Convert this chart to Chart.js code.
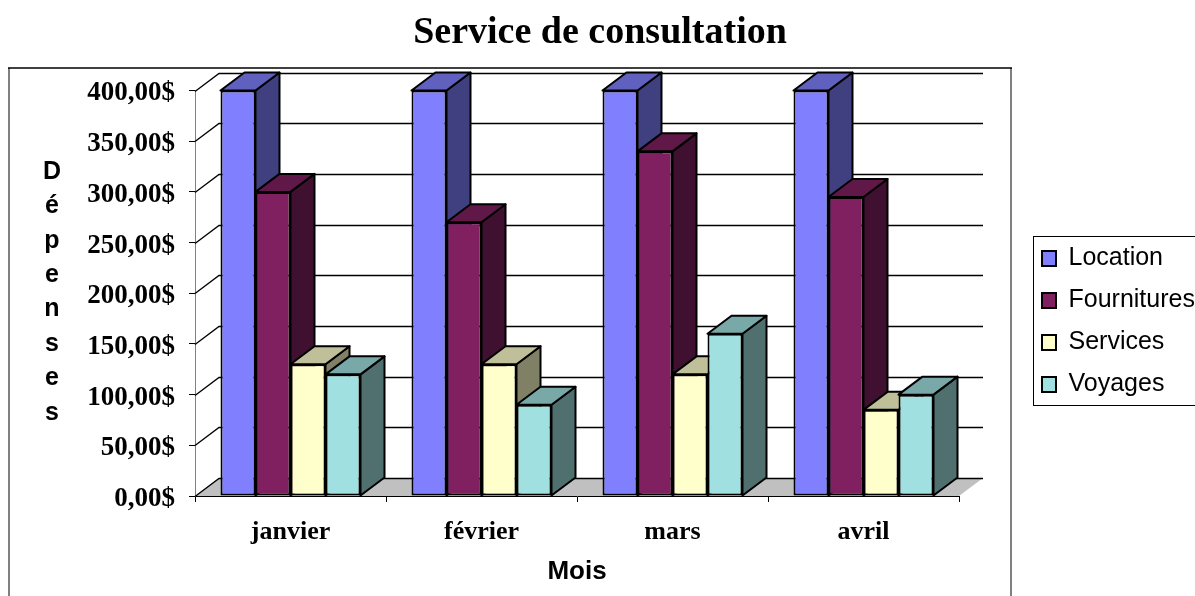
<!DOCTYPE html>
<html lang="fr">
<head>
<meta charset="utf-8">
<title>Service de consultation</title>
<script src="https://cdn.jsdelivr.net/npm/chart.js@4/dist/chart.umd.min.js"></script>
<style>
    html, body { margin: 0; padding: 0; background: #fff; overflow: hidden; }
    canvas { display: block; }
</style>
</head>
<body>
<canvas id="depensesChart" width="1195" height="596"></canvas>
<script>
// ============================================
// DATA
// ============================================
const months = ['janvier', 'février', 'mars', 'avril'];
const location_ = [400, 400, 400, 400];
const fournitures = [300, 270, 340, 295];
const services = [130, 130, 120, 85];
const voyages = [120, 90, 160, 100];
const yTitleLetters = ['D', 'é', 'p', 'e', 'n', 's', 'e', 's'];

// front / top / side colours of each series
const locationColors = ['#8080FF', '#6060BF', '#404080'];
const fournituresColors = ['#802060', '#601848', '#401030'];
const servicesColors = ['#FFFFCC', '#BFBF99', '#808066'];
const voyagesColors = ['#A0E0E0', '#78A8A8', '#507070'];

// fake 3D depth of the old spreadsheet look
const DEPTH_X = 24;
const DEPTH_Y = 18;
const SERIF = '"Liberation Serif", serif';
const SANS = '"Liberation Sans", sans-serif';

function makeDataset(label, data, colors) {
    return {
        label: label,
        data: data,
        backgroundColor: colors[0],
        topColor: colors[1],
        sideColor: colors[2],
        borderColor: '#000',
        borderWidth: 2,
        borderSkipped: false,
        categoryPercentage: 0.733,
        barPercentage: 1
    };
}

function poly(ctx, pts, fill, stroke, width) {
    ctx.beginPath();
    pts.forEach((p, i) => i ? ctx.lineTo(p[0], p[1]) : ctx.moveTo(p[0], p[1]));
    ctx.closePath();
    if (fill) {
        ctx.fillStyle = fill;
        ctx.fill();
    }
    if (stroke) {
        ctx.strokeStyle = stroke;
        ctx.lineWidth = width;
        ctx.lineJoin = 'round';
        ctx.stroke();
    }
}

// frames, floor, back wall grid, stacked axis title
const backdrop = {
    id: 'backdrop',
    beforeDatasetsDraw(chart) {
        const { ctx, chartArea: a, scales: { y } } = chart;
        ctx.save();

        // plot frame runs off the bottom of the picture
        ctx.strokeStyle = '#808080';
        ctx.lineWidth = 2;
        ctx.beginPath();
        ctx.moveTo(9, 600);
        ctx.lineTo(9, 68);
        ctx.moveTo(1011, 68);
        ctx.lineTo(1011, 600);
        ctx.stroke();
        ctx.strokeStyle = '#000';
        ctx.lineWidth = 1.4;
        ctx.beginPath();
        ctx.moveTo(8, 68);
        ctx.lineTo(1012, 68);
        ctx.stroke();

        poly(ctx, [[a.left, a.bottom], [a.left + DEPTH_X, a.bottom - DEPTH_Y],
            [a.right + DEPTH_X, a.bottom - DEPTH_Y], [a.right, a.bottom]], '#C0C0C0');

        ctx.strokeStyle = '#000';
        ctx.lineWidth = 1.3;
        y.ticks.forEach(t => {
            const py = Math.round(y.getPixelForValue(t.value)) + 0.5;
            ctx.beginPath();
            ctx.moveTo(a.left, py);
            ctx.lineTo(a.left + DEPTH_X, py - DEPTH_Y);
            ctx.lineTo(a.right + DEPTH_X, py - DEPTH_Y);
            ctx.stroke();
        });

        // side and top faces, left to right so the next bar overlaps correctly
        chart.data.labels.forEach((_, i) => {
            chart.data.datasets.forEach((ds, d) => {
                const bar = chart.getDatasetMeta(d).data[i];
                const half = bar.width / 2;
                const l = bar.x - half, r = bar.x + half;
                const t = bar.y, b = bar.base;
                poly(ctx, [[r, t], [r + DEPTH_X, t - DEPTH_Y], [r + DEPTH_X, b - DEPTH_Y], [r, b]], ds.sideColor, '#000', 2);
                poly(ctx, [[l, t], [l + DEPTH_X, t - DEPTH_Y], [r + DEPTH_X, t - DEPTH_Y], [r, t]], ds.topColor, '#000', 2);
            });
        });

        ctx.fillStyle = '#000';
        ctx.font = 'bold 25px ' + SANS;
        ctx.textAlign = 'center';
        ctx.textBaseline = 'middle';
        yTitleLetters.forEach((letter, i) => ctx.fillText(letter, 52, 172 + i * 34.4));
        ctx.restore();
    },
    afterLayout(chart) {
        // title is centred over the whole picture, not over the plot
        chart.titleBlock.left = 0;
        chart.titleBlock.right = 1200;
        // legend sits outside the plot frame, box cut by the right edge
        const lg = chart.legend;
        lg.left = 1025;
        lg.right = 1195;
        lg.top = 229;
        lg.bottom = 596;
    },
    afterDraw(chart) {
        const { ctx } = chart;
        ctx.save();
        ctx.strokeStyle = '#000';
        ctx.lineWidth = 1;
        ctx.strokeRect(1033.5, 236.5, 170, 169);
        ctx.restore();
    }
};

new Chart(document.getElementById('depensesChart'), {
    type: 'bar',
    data: {
        labels: months,
        datasets: [
            makeDataset('Location', location_, locationColors),
            makeDataset('Fournitures', fournitures, fournituresColors),
            makeDataset('Services', services, servicesColors),
            makeDataset('Voyages', voyages, voyagesColors)
        ]
    },
    plugins: [backdrop],
    options: {
        responsive: false,
        animation: false,
        layout: { padding: { left: 0, right: 236, top: 0, bottom: 0 } },
        plugins: {
            tooltip: { enabled: false },
            title: {
                display: true,
                text: 'Service de consultation',
                color: '#000',
                font: { family: SERIF, size: 38, weight: 'bold', lineHeight: 1.2 },
                padding: { top: 10, bottom: 34.9 }
            },
            legend: {
                position: 'chartArea',
                align: 'start',
                labels: {
                    color: '#000',
                    font: { family: SANS, size: 25, lineHeight: 1.2 },
                    boxWidth: 14,
                    boxHeight: 15,
                    padding: 17
                }
            }
        },
        scales: {
            x: {
                afterFit(scale) { scale.height = 100; },
                grid: { drawOnChartArea: false, drawTicks: true, tickLength: 6, color: '#000', lineWidth: 1 },
                border: { color: '#000', width: 1 },
                ticks: { color: '#000', padding: 15, font: { family: SERIF, size: 26, weight: 'bold' }, maxRotation: 0 },
                title: {
                    display: true,
                    text: 'Mois',
                    color: '#000',
                    font: { family: SANS, size: 26, weight: 'bold' },
                    padding: { top: 0, bottom: 9 }
                }
            },
            y: {
                min: 0,
                max: 400,
                afterFit(scale) { scale.width = 195; },
                grid: { drawOnChartArea: false, drawTicks: true, tickLength: 6, color: '#000', lineWidth: 1 },
                border: { color: '#808080', width: 1 },
                ticks: {
                    stepSize: 50,
                    color: '#000',
                    padding: 14,
                    labelOffset: 3,
                    font: { family: SERIF, size: 27, weight: 'bold' },
                    callback: v => v.toFixed(2).replace('.', ',') + '$'
                }
            }
        }
    }
});
</script>
</body>
</html>
